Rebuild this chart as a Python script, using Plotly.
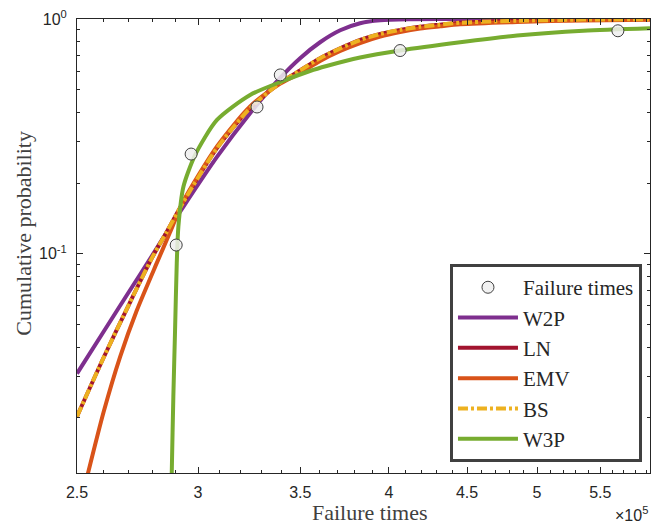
import numpy as np
import plotly.graph_objects as go

SCALE = 1e5

# Observed failure times (x 1e5) and their plotting-position probabilities
fail_x = [2.903, 2.969, 3.279, 3.396, 4.068, 5.648]
fail_y = [0.109, 0.266, 0.422, 0.578, 0.734, 0.891]

# W2P curve
w2p_x = [2.50, 2.602, 2.709, 2.799, 2.862, 2.935, 3.087, 3.245, 3.394, 3.499,
         3.606, 3.717, 3.830, 3.948, 4.129, 4.379, 5.928]
w2p_y = [0.0309, 0.0466, 0.0703, 0.0980, 0.1235, 0.159, 0.2587, 0.397, 0.5595,
         0.681, 0.796, 0.895, 0.959, 0.988, 0.998, 1.0, 1.0]

# LN curve
ln_x = [2.50, 2.602, 2.709, 2.799, 2.862, 2.935, 3.087, 3.245, 3.394, 3.499,
        3.606, 3.717, 3.830, 3.948, 4.068, 4.193, 4.321, 4.453, 4.852, 5.362, 5.928]
ln_y = [0.0203, 0.0361, 0.0625, 0.0961, 0.124, 0.1665, 0.2818, 0.417, 0.534,
        0.604, 0.681, 0.750, 0.814, 0.863, 0.898, 0.927, 0.946, 0.964, 0.983,
        0.994, 0.998]

# EMV curve
emv_x = [2.5406, 2.602, 2.6678, 2.7352, 2.8196, 2.8753, 2.935, 3.087, 3.245,
         3.394, 3.499, 3.606, 3.717, 3.830, 3.948, 4.068, 4.193, 4.321, 4.453,
         4.852, 5.362, 5.928]
emv_y = [0.0115, 0.02116, 0.03645, 0.05722, 0.0915, 0.1229, 0.168, 0.2867,
         0.4243, 0.529, 0.589, 0.6627, 0.7307, 0.7903, 0.8425, 0.8804, 0.9111,
         0.9309, 0.9493, 0.9710, 0.9863, 0.9931]

# BS curve
bs_x = [2.50, 2.602, 2.709, 2.799, 2.862, 2.935, 3.087, 3.245, 3.394, 3.499,
        3.606, 3.717, 3.830, 3.948, 4.068, 4.193, 4.321, 4.453, 4.852, 5.362, 5.928]
bs_y = [0.0203, 0.0361, 0.0625, 0.0961, 0.124, 0.1665, 0.2818, 0.417, 0.534,
        0.604, 0.681, 0.750, 0.814, 0.863, 0.898, 0.927, 0.946, 0.964, 0.983,
        0.994, 0.998]

# W3P curve
w3p_x = [2.8828, 2.8837, 2.8906, 2.8981, 2.9055, 2.9126, 2.935, 2.9873, 3.087,
         3.245, 3.4108, 3.5509, 3.6414, 3.830, 4.068, 4.453, 4.852, 5.362, 5.928]
w3p_y = [0.0099, 0.01166, 0.0247, 0.0475, 0.0913, 0.1306, 0.1934, 0.2638,
         0.3717, 0.4749, 0.5447, 0.6007, 0.631, 0.6857, 0.7345, 0.7960, 0.8506,
         0.8917, 0.9129]

x_tick_vals = [2.5, 3, 3.5, 4, 4.5, 5, 5.5]
x_tick_text = ["2.5", "3", "3.5", "4", "4.5", "5", "5.5"]
x_minor_vals = [2.6, 2.7, 2.8, 2.9, 3.1, 3.2, 3.3, 3.4, 3.6, 3.7, 3.8, 3.9,
                4.1, 4.2, 4.3, 4.4, 4.6, 4.7, 4.8, 4.9, 5.1, 5.2, 5.3, 5.4,
                5.6, 5.7, 5.8, 5.9]
y_tick_vals = [0.1, 1.0]
y_tick_text = ["10<sup>-1</sup>", "10<sup>0</sup>"]
y_minor_vals = [0.02, 0.03, 0.04, 0.05, 0.06, 0.07, 0.08, 0.09,
                0.2, 0.3, 0.4, 0.5, 0.6, 0.7, 0.8, 0.9]

X_RANGE = [2.5, 5.928]
Y_RANGE = [0.01166, 1.0]

AX = "#262626"
SERIF = "Liberation Serif"
SANS = "Liberation Sans"

def sx(v):
    return [a * SCALE for a in v]

fig = go.Figure()
line_kw = dict(mode="lines", line_shape="spline")
fig.add_trace(go.Scatter(x=sx(w2p_x), y=w2p_y, name="W2P", legendgroup="b",
                         line=dict(color="#7E2F8E", width=4, smoothing=0.7), **line_kw))
fig.add_trace(go.Scatter(x=sx(ln_x), y=ln_y, name="LN", legendgroup="c",
                         line=dict(color="#A2142F", width=4, smoothing=0.7), **line_kw))
fig.add_trace(go.Scatter(x=sx(emv_x), y=emv_y, name="EMV", legendgroup="d",
                         line=dict(color="#D95319", width=4, smoothing=0.7), **line_kw))
fig.add_trace(go.Scatter(x=sx(bs_x), y=bs_y, name="BS", legendgroup="e",
                         line=dict(color="#EDB120", width=4, smoothing=0.7,
                                   dash="10px,3px,3px,3px"), **line_kw))
fig.add_trace(go.Scatter(x=sx(w3p_x), y=w3p_y, name="W3P", legendgroup="f",
                         line=dict(color="#77AC30", width=4, smoothing=0.7), **line_kw))
fig.add_trace(go.Scatter(x=sx(fail_x), y=fail_y, name="Failure times", legendgroup="a",
                         mode="markers", legendrank=1,
                         marker=dict(symbol="circle", size=12,
                                     color="rgba(238,238,238,0.85)",
                                     line=dict(color="#404040", width=1))))

axis_common = dict(
    type="log", showline=True, linecolor=AX, linewidth=1, mirror="allticks",
    ticks="inside", ticklen=6, tickwidth=1, tickcolor=AX, showgrid=False,
    zeroline=False, tickfont=dict(family=SANS, size=16, color=AX),
)

fig.update_xaxes(
    range=[np.log10(X_RANGE[0] * SCALE), np.log10(X_RANGE[1] * SCALE)],
    tickmode="array", tickvals=sx(x_tick_vals), ticktext=x_tick_text,
    minor=dict(tickmode="array", tickvals=sx(x_minor_vals), ticks="inside",
               ticklen=3, tickcolor=AX, showgrid=False),
    ticklabelstandoff=5,
    **axis_common,
)
fig.update_yaxes(
    range=[np.log10(Y_RANGE[0]), np.log10(Y_RANGE[1])],
    tickmode="array", tickvals=y_tick_vals, ticktext=y_tick_text,
    minor=dict(tickmode="array", tickvals=y_minor_vals, ticks="inside",
               ticklen=3, tickcolor=AX, showgrid=False),
    ticklabelstandoff=6,
    **axis_common,
)

# Axis titles
fig.add_annotation(text="Failure times", xref="paper", yref="paper",
                   x=0.511, y=0, xanchor="center", yanchor="middle", yshift=-39,
                   showarrow=False, font=dict(family=SERIF, size=22, color="#404040"))
fig.add_annotation(text="Cumulative probability", xref="paper", yref="paper",
                   x=0, y=0.527, xanchor="center", yanchor="middle", xshift=-53,
                   textangle=-90, showarrow=False,
                   font=dict(family=SERIF, size=22, color="#404040"))
# Axis exponent
fig.add_annotation(text="\u00d710<sup>5</sup>", xref="paper", yref="paper",
                   x=1.0, y=0, xanchor="right", yanchor="top", yshift=-29,
                   showarrow=False, font=dict(family=SANS, size=16, color=AX))

fig.update_layout(
    width=651, height=524,
    margin=dict(l=77, r=1, t=19, b=51, autoexpand=False),
    paper_bgcolor="white", plot_bgcolor="white",
    showlegend=True,
    legend=dict(x=0.986, y=0.024, xanchor="right", yanchor="bottom",
                bgcolor="white", bordercolor="#404040", borderwidth=3,
                font=dict(family=SERIF, size=21, color=AX),
                traceorder="grouped", tracegroupgap=0, itemwidth=60),
)

fig.write_html("out.html")
